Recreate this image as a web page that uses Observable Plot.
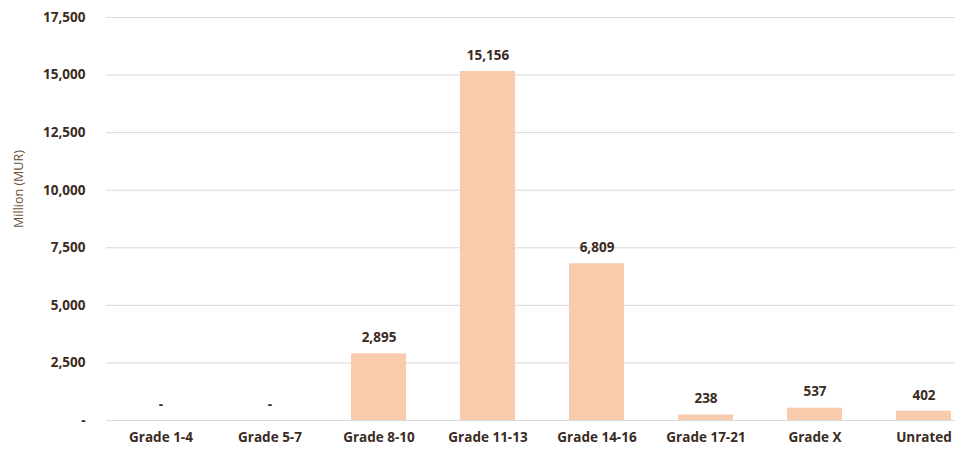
<!DOCTYPE html>
<html><head><meta charset="utf-8">
<script src="https://cdn.jsdelivr.net/npm/d3@7"></script>
<script src="https://cdn.jsdelivr.net/npm/@observablehq/plot@0.6"></script>
<style>
body{margin:0;background:#fff;}
svg{font-family:"Open Sans",sans-serif;}
</style></head><body><div id="chart"></div>
<script>
const categories = ["Grade 1-4","Grade 5-7","Grade 8-10","Grade 11-13","Grade 14-16","Grade 17-21","Grade X","Unrated"];
const values = [0,0,2895,15156,6809,238,537,402];
const yTicks = [0,2500,5000,7500,10000,12500,15000,17500];
const data = categories.map((c,i)=>({cat:c, value:values[i]}));
const fmt = v => v === 0 ? "-" : d3.format(",")(v);
const textColor = "#3b2b22";
const fs = 13.5;
const chart = Plot.plot({
  width: 965, height: 449,
  marginLeft: 106, marginRight: 10, marginTop: 17, marginBottom: 29,
  style: {fontFamily: "Open Sans, sans-serif", background: "#fff"},
  x: {domain: categories, range: [106, 978], paddingInner: 0.5, paddingOuter: 0.25, label: null},
  y: {domain: [0, 17500], label: null},
  marks: [
    Plot.ruleY(yTicks, {stroke: "#d9d9d9", strokeWidth: 1}),
    Plot.barY(data, {x: "cat", y: "value", fill: "#F8CBAD"}),
    Plot.text(data, {x: "cat", y: "value", text: d => fmt(d.value), dy: -16, fill: textColor, fontWeight: "bold", fontSize: fs}),
    Plot.axisX({tickSize: 0, tickPadding: 12, fontSize: fs, fontWeight: "bold", fill: textColor, label: null}),
    Plot.axisY({ticks: yTicks, tickSize: 0, tickPadding: 21, tickFormat: fmt, fontSize: fs, fontWeight: "bold", fill: textColor, label: null}),
    Plot.text(["Million (MUR)"], {frameAnchor: "left", textAnchor: "middle", dx: -88, dy: -30, rotate: -90, fill: "#6b4f3a", fontSize: 12.5})
  ]
});
document.getElementById("chart").appendChild(chart);
</script></body></html>
